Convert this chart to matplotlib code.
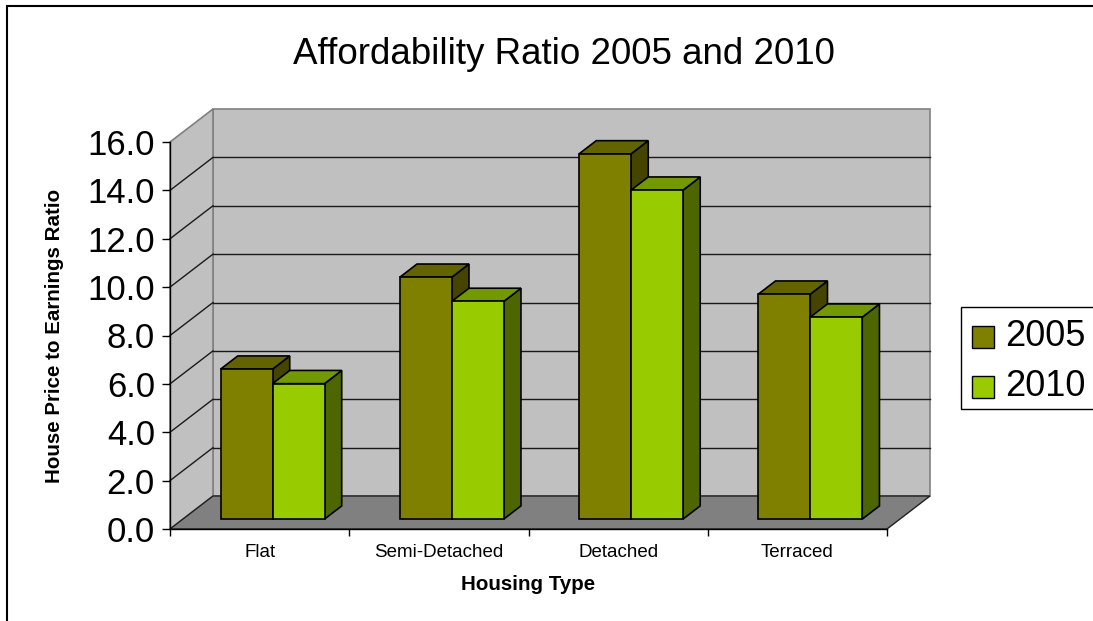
import matplotlib
matplotlib.use("Agg")
import matplotlib.pyplot as plt
from matplotlib.patches import Polygon, Rectangle
from matplotlib.lines import Line2D

# ---------------- data ----------------
categories = ["Flat", "Semi-Detached", "Detached", "Terraced"]
series_names = ["2005", "2010"]
values_2005 = [6.2, 10.0, 15.1, 9.3]
values_2010 = [5.6, 9.0, 13.6, 8.35]
y_ticks = [0, 2, 4, 6, 8, 10, 12, 14, 16]

title = "Affordability Ratio 2005 and 2010"
x_title = "Housing Type"
y_title = "House Price to Earnings Ratio"

# colours: (front, top, side)
face_colors = [("#808000", "#636300", "#454500"),
               ("#99CC00", "#739900", "#4D6600")]

plt.rcParams['font.family'] = ['Liberation Sans', 'DejaVu Sans']

W, H = 1093, 621
fig = plt.figure(figsize=(W / 100, H / 100), dpi=100)
fig.patch.set_facecolor("white")

# front plane of the 3D box
left_px, right_px, top_px, bot_px = 170, 887, 142, 529
ax = fig.add_axes([left_px / W, (H - bot_px) / H,
                   (right_px - left_px) / W, (bot_px - top_px) / H])
ax.set_xlim(0, len(categories))
ax.set_ylim(0, 16)
ax.patch.set_visible(False)

# depth vector (pixels) converted to data units
px_per_x = (right_px - left_px) / len(categories)
px_per_y = (bot_px - top_px) / 16
DX = 43 / px_per_x
DY = 33 / px_per_y


def proj(x, v, d):
    return (x + d * DX, v + d * DY)


ncat = len(categories)
ymax = y_ticks[-1]

# walls and floor
back = Polygon([proj(0, 0, 1), proj(ncat, 0, 1), proj(ncat, ymax, 1), proj(0, ymax, 1)],
               closed=True, facecolor="#C0C0C0", edgecolor="#808080", lw=1.2,
               zorder=0.5, clip_on=False)
side = Polygon([proj(0, 0, 0), proj(0, 0, 1), proj(0, ymax, 1), proj(0, ymax, 0)],
               closed=True, facecolor="#C0C0C0", edgecolor="#808080", lw=1.2,
               zorder=0.5, clip_on=False)
floor = Polygon([proj(0, 0, 0), proj(ncat, 0, 0), proj(ncat, 0, 1), proj(0, 0, 1)],
                closed=True, facecolor="#808080", edgecolor="#202020", lw=1.0,
                zorder=0.6, clip_on=False)
for p in (back, side, floor):
    ax.add_patch(p)

# gridlines on back wall and side wall
for v in y_ticks[1:-1]:
    xs, ys = zip(proj(0, v, 1), proj(ncat, v, 1))
    ax.add_line(Line2D(xs, ys, color="#1a1a1a", lw=1.0, zorder=0.7, clip_on=False))
    xs, ys = zip(proj(0, v, 0), proj(0, v, 1))
    ax.add_line(Line2D(xs, ys, color="#1a1a1a", lw=1.0, zorder=0.7, clip_on=False))

# bars
bar_w = 0.29
d0, d1 = 0.3, 0.7
all_vals = [values_2005, values_2010]
z = 1.0
for i in range(ncat):
    for s, vals in enumerate(all_vals):
        v = vals[i]
        x0 = i + 0.5 - bar_w + s * bar_w
        x1 = x0 + bar_w
        fc, tc, sc = face_colors[s]
        front = [proj(x0, 0, d0), proj(x1, 0, d0), proj(x1, v, d0), proj(x0, v, d0)]
        top = [proj(x0, v, d0), proj(x1, v, d0), proj(x1, v, d1), proj(x0, v, d1)]
        sidef = [proj(x1, 0, d0), proj(x1, 0, d1), proj(x1, v, d1), proj(x1, v, d0)]
        for poly, col in ((sidef, sc), (top, tc), (front, fc)):
            ax.add_patch(Polygon(poly, closed=True, facecolor=col, edgecolor="black",
                                 lw=1.2, zorder=z, clip_on=False, joinstyle="miter"))
            z += 0.01

# axes / ticks
for sp in ("top", "right"):
    ax.spines[sp].set_visible(False)
ax.spines["left"].set_linewidth(1.0)
ax.spines["bottom"].set_linewidth(1.0)
ax.set_yticks(y_ticks)
ax.set_yticklabels([f"{t:.1f}" for t in y_ticks])
ax.tick_params(axis="y", direction="out", length=5.8, width=1.0, pad=5, labelsize=25)
ax.set_xticks(range(ncat + 1))
ax.set_xticklabels([])
ax.tick_params(axis="x", which="major", direction="out", length=5, width=1.0)
ax.set_xticks([i + 0.5 for i in range(ncat)], minor=True)
ax.set_xticklabels(categories, minor=True)
ax.tick_params(axis="x", which="minor", length=0, pad=11, labelsize=13.5)

# titles
fig.text(564 / W, 1 - 54 / H, title, ha="center", va="center", fontsize=26.5)
fig.text(528.5 / W, 1 - 585 / H, x_title, ha="center", va="center",
         fontsize=14.8, fontweight="bold")
fig.text(55 / W, 1 - 335.5 / H, y_title, ha="center", va="center",
         rotation=90, fontsize=14.8, fontweight="bold")

# legend (manual, extends past right edge like the reference)
fig.patches.append(Rectangle((961 / W, 1 - 409 / H), 200 / W, 102 / H,
                             transform=fig.transFigure, facecolor="white",
                             edgecolor="black", lw=1.0))
for k, name in enumerate(series_names):
    cy = 337 + 50 * k
    fig.patches.append(Rectangle((972 / W, 1 - (cy + 11) / H), 22 / W, 22 / H,
                                 transform=fig.transFigure,
                                 facecolor=face_colors[k][0], edgecolor="black", lw=1.0))
    fig.text(1005 / W, 1 - cy / H, name, ha="left", va="center", fontsize=26)

# outer border of the chart area
fig.patches.append(Rectangle((7 / W, -0.1), 1.2, 1.1 - 6 / H,
                             transform=fig.transFigure, facecolor="none",
                             edgecolor="black", lw=1.5))

fig.savefig("out.png", dpi=100)
